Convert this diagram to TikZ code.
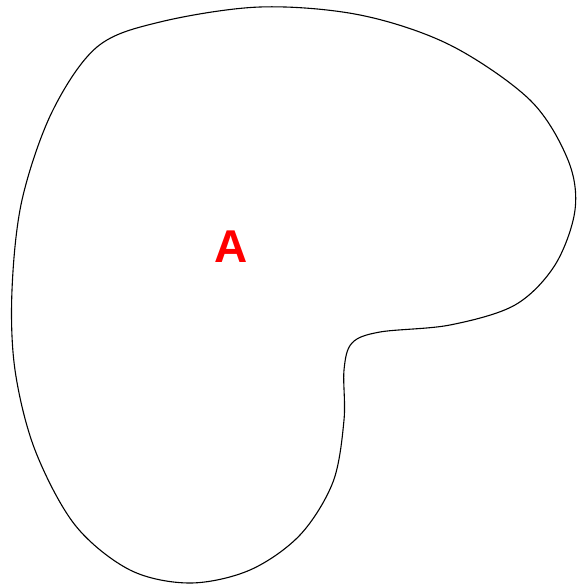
\documentclass[tikz,border=0pt]{standalone}
\usepackage{fontspec}
\setmainfont{Liberation Sans}
\begin{document}
\begin{tikzpicture}[x=1pt,y=-1pt,
  outline/.style={draw=black,line width=1.1pt},
  label/.style={text=red,font=\fontsize{46}{46}\selectfont\bfseries}]
\useasboundingbox (0,0) rectangle (584,586);
\draw[outline] plot[smooth cycle,tension=0.55] coordinates {
(97,47) (160,22) (260,7) (360,15) (450,45) (530,100) (568,160) (575,210)
(555,265) (515,305) (450,325) (380,332) (352,343) (344,370) (344,420)
(333,482) (300,535) (250,570) (190,583) (130,570) (75,525) (35,450)
(15,370) (12,290) (22,200) (52,112)};
\node[label] (a) at (231,247) {A};
\end{tikzpicture}
\end{document}
